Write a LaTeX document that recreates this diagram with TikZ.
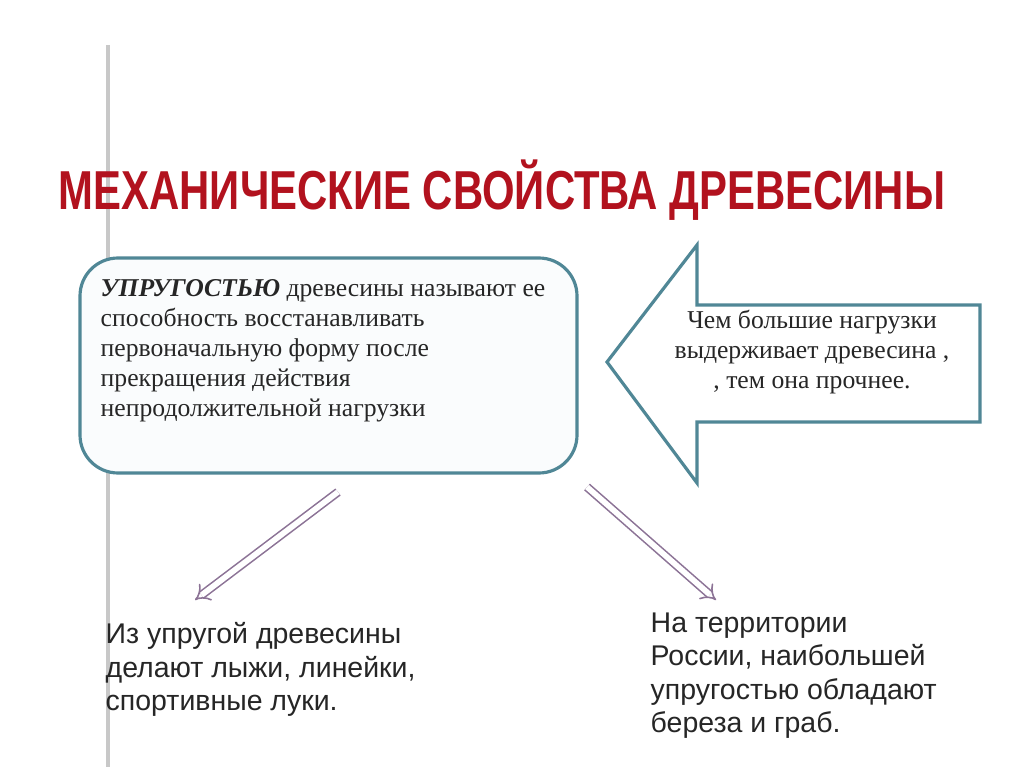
\documentclass[tikz,border=0pt]{standalone}
\usepackage{fontspec}
\setmainfont{Liberation Serif}
\setsansfont{Liberation Sans}
\usetikzlibrary{arrows.meta}
\definecolor{titlered}{RGB}{178,18,30}
\definecolor{frame}{RGB}{80,135,150}
\definecolor{boxfill}{RGB}{250,252,253}
\definecolor{arrowpurple}{RGB}{140,115,150}
\definecolor{rule}{RGB}{200,200,200}
\tikzset{
  panel/.style={draw=frame, line width=0.9pt, fill=boxfill},
  bodytext/.style={font=\fontsize{7.3}{8.55}\selectfont, inner sep=0pt, align=left, text=black!85},
  sanstext/.style={font=\sffamily\fontsize{8.1}{9.5}\selectfont, inner sep=0pt, align=left, text=black!85},
  linkarrow/.style={draw=arrowpurple, double=white, double distance=1.6pt, line width=0.45pt, -{Implies}}
}
\begin{document}
\begin{tikzpicture}[x=0.01cm,y=-0.01cm]
\useasboundingbox[fill=white] (0,0) rectangle (1024,767);
% vertical rule
\draw[rule, line width=1.1pt] (108,45) -- (108,767);
% title
\node[anchor=center, inner sep=0pt, text=titlered] (title) at (502,190)
  {\resizebox{8.86cm}{\height}{\sffamily\bfseries\fontsize{15.6}{18}\selectfont МЕХАНИЧЕСКИЕ СВОЙСТВА ДРЕВЕСИНЫ}};
% rounded box
\draw[panel, rounded corners=0.38cm] (80,258) rectangle (577,473);
\node[bodytext, anchor=north west] (def) at (100,279)
  {\textbf{\textit{УПРУГОСТЬЮ}} древесины называют ее\\
   способность восстанавливать\\
   первоначальную форму после\\
   прекращения действия\\
   непродолжительной нагрузки};
% big left arrow
\draw[draw=frame, line width=0.9pt, fill=white, line join=miter]
  (607,362) -- (697,245) -- (697,305) -- (980,305) -- (980,422) -- (697,422) -- (697,483) -- cycle;
\node[bodytext, align=center, anchor=center] (strength) at (812,352)
  {Чем большие нагрузки\\ выдерживает древесина ,\\ , тем она прочнее.};
% bottom texts
\node[sanstext, anchor=north west] (use) at (105,622)
  {Из упругой древесины\\ делают лыжи, линейки,\\ спортивные луки.};
\node[sanstext, anchor=north west] (trees) at (650,612)
  {На территории\\ России, наибольшей\\ упругостью обладают\\ береза и граб.};
% connectors
\coordinate (s1) at (338,492);
\coordinate (e1) at (195,600);
\coordinate (s2) at (587,487);
\coordinate (e2) at (716,600);
\draw[linkarrow] (s1) -- (e1);
\draw[linkarrow] (s2) -- (e2);
\end{tikzpicture}
\end{document}
